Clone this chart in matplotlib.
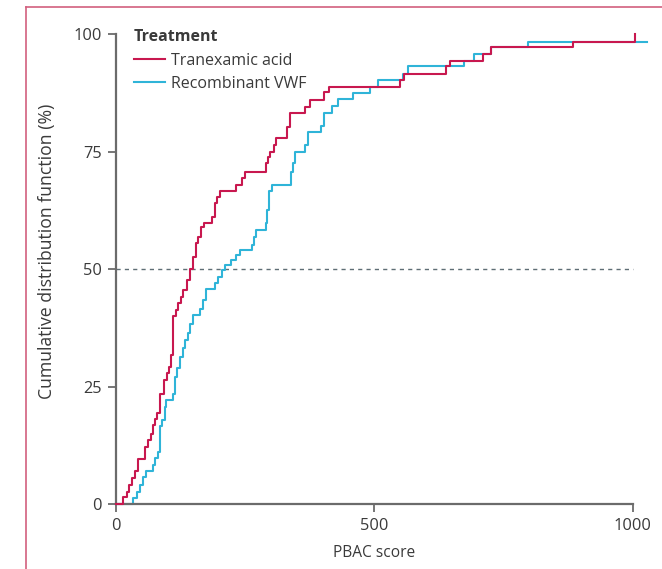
import matplotlib
matplotlib.use('Agg')
import matplotlib.pyplot as plt
from matplotlib.lines import Line2D

# step points (PBAC score, cumulative %)
txa_x = [0, 13, 21, 26, 31, 36, 42, 56, 62, 67, 71, 75, 80, 86, 93, 98, 103, 106,
         111, 116, 120, 126, 130, 138, 143, 149, 155, 159, 164, 170, 185, 191, 196,
         201, 233, 243, 249, 290, 294, 299, 305, 310, 330, 336, 365, 376, 402, 413,
         549, 558, 639, 647, 710, 726, 884, 1005]
txa_y = [0, 1.4, 2.6, 4.0, 5.5, 7.1, 9.6, 12.2, 13.6, 15.0, 16.8, 18.0, 19.3, 23.4,
         26.4, 27.8, 29.2, 31.7, 39.9, 41.3, 42.7, 44.1, 45.5, 47.7, 50.1, 52.6, 55.5,
         56.9, 59.0, 59.7, 61.0, 64.0, 65.4, 66.7, 67.9, 69.3, 70.7, 72.5, 73.9, 75.0,
         76.4, 77.8, 80.3, 83.3, 84.5, 86.0, 87.7, 88.8, 90.2, 91.6, 93.1, 94.3, 95.7,
         97.2, 98.4, 100]

vwf_x = [0, 33, 41, 46, 53, 58, 71, 75, 82, 86, 90, 95, 97, 111, 114, 119, 124, 129,
         133, 139, 143, 149, 162, 169, 175, 191, 198, 205, 211, 223, 233, 240, 264,
         267, 270, 290, 292, 297, 301, 338, 343, 346, 365, 372, 397, 402, 418, 430,
         459, 491, 507, 555, 565, 674, 692, 726, 798, 1028]
vwf_y = [0, 1.2, 2.6, 4.0, 5.7, 7.1, 8.3, 9.7, 11.1, 16.6, 17.9, 20.7, 22.1, 23.5,
         27.1, 28.9, 31.3, 33.1, 34.9, 36.3, 38.4, 40.2, 41.6, 43.4, 45.7, 47.0, 48.4,
         49.8, 50.9, 51.9, 53.0, 54.0, 55.1, 56.9, 58.3, 59.7, 62.6, 66.5, 67.9, 70.7,
         72.5, 75.0, 76.4, 79.2, 80.4, 83.1, 84.7, 86.1, 87.5, 88.8, 90.2, 91.6, 93.1,
         94.3, 95.7, 97.2, 98.4, 98.4]

labels = ['Tranexamic acid', 'Recombinant VWF']
colors = ['#c8184f', '#2fb4d8']
yticks = [0, 25, 50, 75, 100]
xticks = [0, 500, 1000]

plt.rcParams['font.family'] = ['Open Sans', 'DejaVu Sans']
axis_col = '#6b6b6b'
text_col = '#3a3a3a'

fig = plt.figure(figsize=(6.62, 5.69), dpi=100)
ax = fig.add_axes([0.1752, 0.1142, 0.8157, 0.8425])

ax.axhline(50, xmin=0, xmax=1000 / 1045, color='#5f6e75', lw=1, dashes=(3, 3))
ax.step(txa_x, txa_y, where='post', color=colors[0], lw=1.5, label=labels[0], clip_on=False, zorder=3)
ax.step(vwf_x, vwf_y, where='post', color=colors[1], lw=1.5, label=labels[1], clip_on=False, zorder=2)

ax.set_xlim(0, 1045)
ax.set_ylim(0, 102)
ax.set_xticks(xticks)
ax.set_yticks(yticks)
for s in ['top', 'right']:
    ax.spines[s].set_visible(False)
ax.spines['left'].set_bounds(0, 100)
ax.spines['bottom'].set_bounds(0, 1000)
for s in ['left', 'bottom']:
    ax.spines[s].set_color(axis_col)
    ax.spines[s].set_linewidth(1.6)
ax.tick_params(length=6, width=1.3, color=axis_col, labelcolor=text_col, labelsize=11.8, pad=4)

ax.set_xlabel('PBAC score', fontsize=11.2, color=text_col)
ax.xaxis.set_label_coords(500 / 1045, -0.085)
ax.set_ylabel('Cumulative distribution function (%)', fontsize=12.7, color=text_col)
ax.yaxis.set_label_coords(-0.112, 0.527)

leg = ax.legend(loc='upper left', bbox_to_anchor=(0.033, 0.99), frameon=False,
                title='Treatment', alignment='left', fontsize=11.5,
                handlelength=1.95, handletextpad=0.4, labelspacing=0.45,
                borderpad=0, borderaxespad=0)
leg.get_title().set_fontweight('bold')
leg.get_title().set_fontsize(11.5)
leg.get_title().set_color(text_col)
for t in leg.get_texts():
    t.set_color(text_col)

# journal panel frame (top and left rules)
frame_col = '#d2607e'
fig.add_artist(Line2D([25.5 / 662, 25.5 / 662], [0, 1 - 7 / 569], color=frame_col, lw=1.2))
fig.add_artist(Line2D([25.5 / 662, 1], [1 - 7 / 569, 1 - 7 / 569], color=frame_col, lw=1.2))

fig.savefig('out.png', dpi=100)
